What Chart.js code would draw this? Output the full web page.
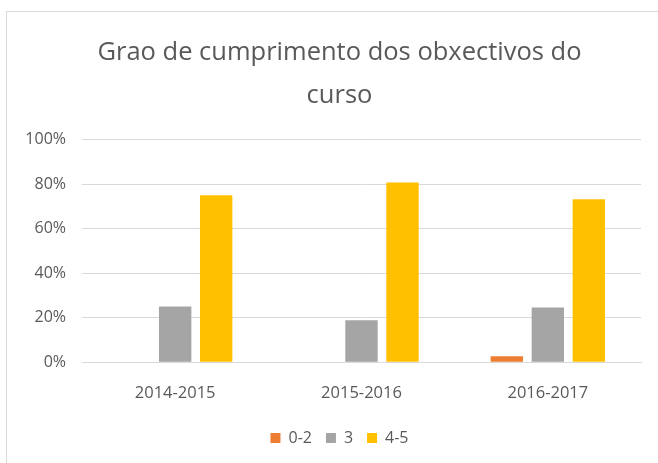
<!DOCTYPE html>
<html>
<head>
<meta charset="utf-8">
<script src="https://cdn.jsdelivr.net/npm/chart.js@4.4.1/dist/chart.umd.min.js"></script>
<style>
  html, body { margin: 0; padding: 0; background: #fff; overflow: hidden; width: 658px; height: 463px; }
  #wrap { position: absolute; left: 6px; top: 11px; width: 667px; height: 470px; border: 1px solid #d9d9d9; box-sizing: border-box; }
  canvas { position: absolute; left: -1px; top: -1px; }
</style>
</head>
<body>
<div id="wrap"><canvas id="c" width="667" height="470"></canvas></div>
<script>
const categories = ["2014-2015", "2015-2016", "2016-2017"];
const seriesNames = ["0-2", "3", "4-5"];
const low = [0, 0, 2.7];
const mid = [25, 18.8, 24.6];
const high = [75, 80.8, 73.2];
const colors = ["#ED7D31", "#A5A5A5", "#FFC000"];
const yTicks = [0, 20, 40, 60, 80, 100];

const grey = "#595959";
const font = "'Open Sans', 'Noto Sans', sans-serif";

new Chart(document.getElementById("c"), {
  type: "bar",
  data: {
    labels: categories,
    datasets: [low, mid, high].map((d, i) => ({
      label: seriesNames[i],
      data: d,
      backgroundColor: colors[i],
      borderWidth: 0,
      categoryPercentage: 0.66,
      barPercentage: 0.79,
    })),
  },
  options: {
    responsive: false,
    animation: false,
    layout: { padding: { left: 0, right: 0, top: 0, bottom: 25 } },
    plugins: {
      title: {
        display: true,
        text: ["Grao de cumprimento dos obxectivos do", "curso"],
        color: grey,
        font: { family: font, size: 25.5, weight: "400", lineHeight: 1.66 },
        padding: { top: 21, bottom: 23 },
      },
      legend: {
        position: "bottom",
        labels: {
          color: grey,
          boxWidth: 10,
          boxHeight: 10,
          padding: 14,
          font: { family: font, size: 16 },
        },
      },
      tooltip: { enabled: false },
    },
    scales: {
      x: {
        grid: { display: false },
        border: { color: "#d9d9d9" },
        ticks: { color: grey, padding: 13, font: { family: font, size: 16.5 } },
      },
      y: {
        min: 0,
        max: 100,
        afterFit: s => { s.width = 76; },
        afterBuildTicks: s => { s.ticks = yTicks.map(v => ({ value: v })); },
        grid: { color: "#d9d9d9", drawTicks: false },
        border: { display: false },
        ticks: {
          color: grey,
          padding: 16,
          font: { family: font, size: 16 },
          callback: v => v + "%",
        },
      },
      // empty right-hand gutter so title and legend stay centred on the whole chart
      gutter: {
        position: "right",
        min: 0,
        max: 100,
        afterFit: s => { s.width = 32; },
        grid: { display: false },
        border: { display: false },
        ticks: { display: false },
      },
    },
  },
});
</script>
</body>
</html>
